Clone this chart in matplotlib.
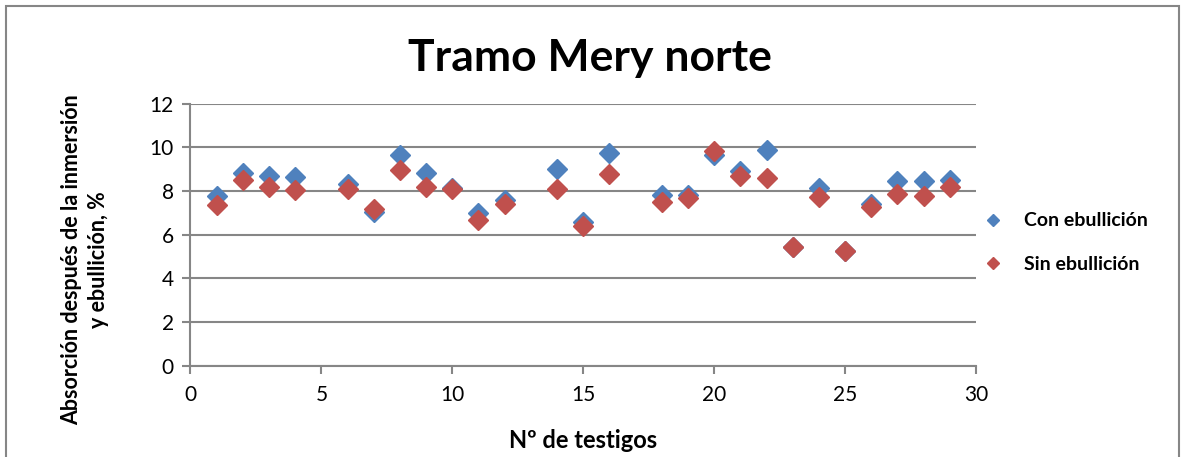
import matplotlib
matplotlib.use('Agg')
from matplotlib import pyplot as plt
from matplotlib.patches import Rectangle

plt.rcParams['font.family'] = ['Lato', 'DejaVu Sans']

# testigo number and absorption values (%)
testigos = [1, 2, 3, 4, 6, 7, 8, 9, 10, 11, 12, 14, 15, 16, 18, 19,
            20, 21, 22, 23, 24, 25, 26, 27, 28, 29]
con_ebullicion = [7.79, 8.84, 8.67, 8.64, 8.31, 7.04, 9.63, 8.84, 8.15, 7.0,
                  7.57, 8.99, 6.58, 9.76, 7.83, 7.83, 9.63, 8.9, 9.86, 5.42,
                  8.15, 5.27, 7.42, 8.46, 8.46, 8.49]
sin_ebullicion = [7.34, 8.49, 8.18, 8.03, 8.11, 7.19, 8.95, 8.18, 8.08, 6.66,
                  7.42, 8.11, 6.4, 8.79, 7.5, 7.69, 9.85, 8.67, 8.6, 5.42,
                  7.73, 5.27, 7.27, 7.88, 7.77, 8.18]

fig = plt.figure(figsize=(11.83, 4.57), dpi=100)
ax = fig.add_axes([0.161, 0.2, 0.664, 0.573])

grey = '#868686'
ax.plot(testigos, con_ebullicion, linestyle='none', marker='D', ms=10,
        color='#4F81BD', label='Con ebullición', zorder=3)
ax.plot(testigos, sin_ebullicion, linestyle='none', marker='D', ms=10,
        color='#C0504D', label='Sin ebullición', zorder=4)

ax.set_xlim(0, 30)
ax.set_ylim(0, 12)
ax.set_xticks(range(0, 31, 5))
ax.set_yticks(range(0, 13, 2))
ax.grid(axis='y', color=grey, linewidth=1.5)
ax.set_axisbelow(True)
for s in ['top', 'right']:
    ax.spines[s].set_visible(False)
for s in ['left', 'bottom']:
    ax.spines[s].set_color(grey)
    ax.spines[s].set_linewidth(1.5)
ax.tick_params(axis='both', colors=grey, width=1.5, length=6, labelsize=15,
               labelcolor='black')
ax.tick_params(axis='y', pad=6)
ax.tick_params(axis='x', pad=8)

fig.text(0.499, 1 - 58 / 457, 'Tramo Mery norte', ha='center', va='center',
         fontsize=32, fontweight='bold')
fig.text(583 / 1183, 1 - 440 / 457, 'Nº de testigos', ha='center',
         va='center', fontsize=17, fontweight='bold')
fig.text(85 / 1183, 1 - 260 / 457,
         'Absorción después de la inmersión\ny ebullición, %',
         ha='center', va='center', rotation=90, fontsize=15.5,
         fontweight='bold', linespacing=1.3)

leg = ax.legend(loc='center left', bbox_to_anchor=(0.975, 0.47),
                frameon=False, prop={'weight': 'bold', 'size': 14},
                labelspacing=1.35, handletextpad=0.6, markerscale=0.65)

# chart border
fig.patches.append(Rectangle((6 / 1183, -0.05), 1173 / 1183, 1.05 - 6 / 457,
                             transform=fig.transFigure, fill=False,
                             edgecolor=grey, linewidth=1.5, clip_on=False))

fig.savefig('out.png', dpi=100)
